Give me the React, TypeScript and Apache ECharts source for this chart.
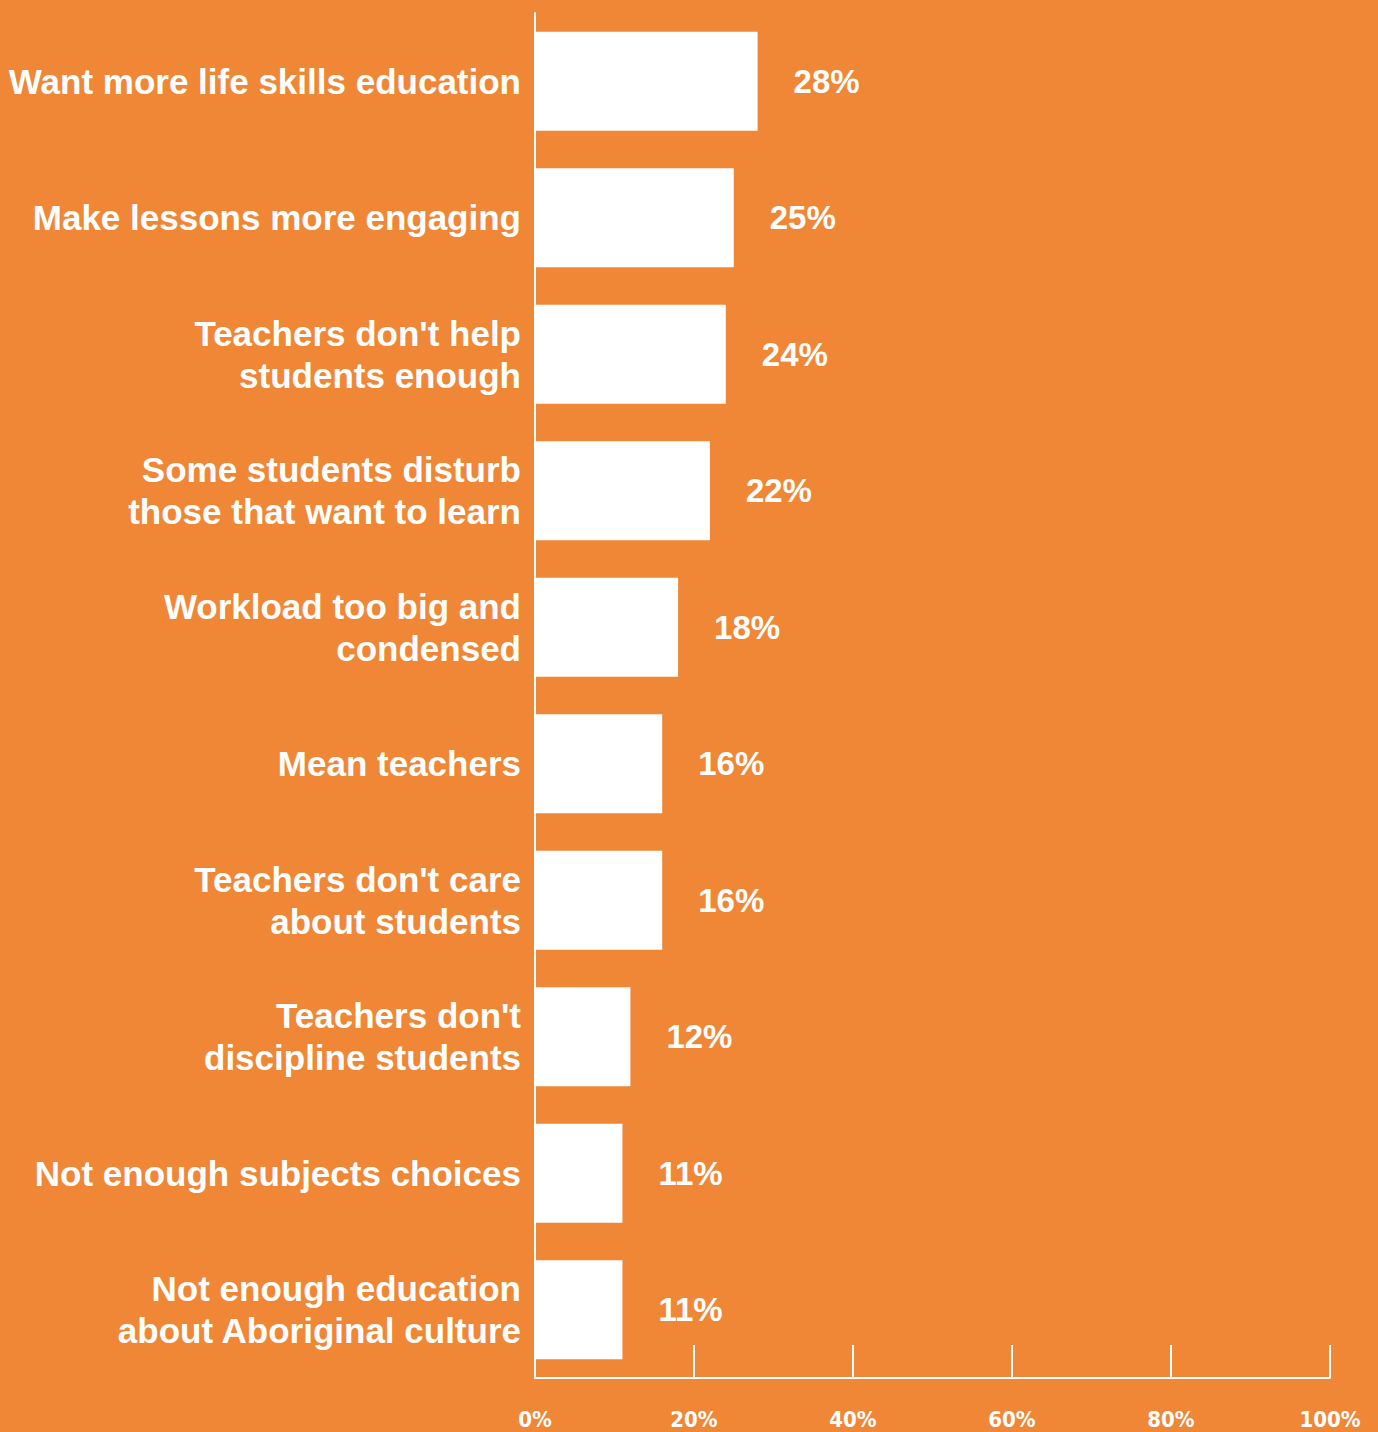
import React, { useEffect, useRef } from "react";
import * as echarts from "echarts";

const categories = [
  "Want more life skills education",
  "Make lessons more engaging",
  "Teachers don't help\nstudents enough",
  "Some students disturb\nthose that want to learn",
  "Workload too big and\ncondensed",
  "Mean teachers",
  "Teachers don't care\nabout students",
  "Teachers don't\ndiscipline students",
  "Not enough subjects choices",
  "Not enough education\nabout Aboriginal culture",
];
const values = [28, 25, 24, 22, 18, 16, 16, 12, 11, 11];
const tickLabels = ["0%", "20%", "40%", "60%", "80%", "100%"];

const BG = "#F08736";

export default function App() {
  const ref = useRef<HTMLDivElement>(null);
  useEffect(() => {
    if (!ref.current) return;
    const chart = echarts.init(ref.current, null, { renderer: "svg" });
    chart.setOption({
      animation: false,
      backgroundColor: BG,
      grid: { left: 535, right: 48, top: 13, bottom: 54, containLabel: false },
      xAxis: {
        type: "value",
        min: 0,
        max: 100,
        interval: 20,
        axisLine: { show: true, lineStyle: { color: "#fff", width: 2 } },
        axisTick: { show: true, inside: true, length: 33, lineStyle: { color: "#fff", width: 2 } },
        splitLine: { show: false },
        axisLabel: {
          margin: 30,
          color: "#fff",
          fontFamily: "'DejaVu Sans Condensed', 'Liberation Sans Narrow', sans-serif",
          fontWeight: "bold",
          fontSize: 22,
          formatter: (v: number) => tickLabels[Math.round(v / 20)] ?? "",
        },
      },
      yAxis: {
        type: "category",
        data: categories,
        inverse: true,
        axisLine: { show: true, lineStyle: { color: "#fff", width: 2 } },
        axisTick: { show: false },
        axisLabel: {
          margin: 14,
          color: "#fff",
          fontFamily: "'Liberation Sans', Arial, sans-serif",
          fontWeight: "bold",
          fontSize: 35,
          lineHeight: 42,
          align: "right",
        },
      },
      series: [
        {
          type: "bar",
          data: values,
          barWidth: 99,
          itemStyle: { color: "#fff" },
          label: {
            show: true,
            position: "right",
            distance: 36,
            color: "#fff",
            fontFamily: "'Liberation Sans', Arial, sans-serif",
            fontWeight: "bold",
            fontSize: 33,
            formatter: (p: any) => p.value + "%",
          },
        },
      ],
    });
    return () => chart.dispose();
  }, []);
  return <div ref={ref} style={{ width: 1378, height: 1432, position: "absolute", left: 0, top: 0 }} />;
}
